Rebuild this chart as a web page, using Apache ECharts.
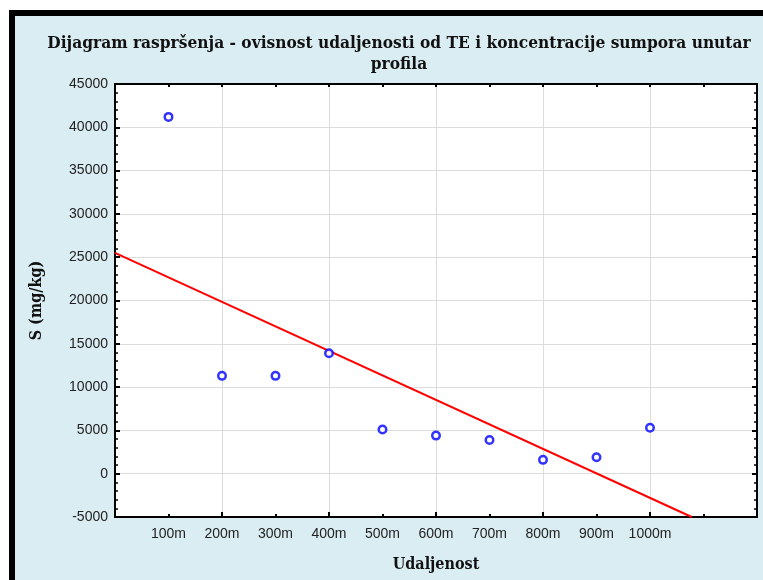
<!DOCTYPE html>
<html>
<head>
<meta charset="utf-8">
<script src="https://cdn.jsdelivr.net/npm/echarts@6/dist/echarts.min.js"></script>
<style>html,body{margin:0;padding:0;background:#fff}#c{width:763px;height:580px}</style>
</head>
<body>
<div id="c"></div>
<script>
// Data
var distances = [100, 200, 300, 400, 500, 600, 700, 800, 900, 1000];
var sulfur = [41200, 11300, 11300, 13900, 5100, 4400, 3900, 1600, 1900, 5300];
// fitted trend line endpoints
var trendX = [0, 1078];
var trendY = [25500, -5000];
var xLabels = ['100m','200m','300m','400m','500m','600m','700m','800m','900m','1000m'];

var chart = echarts.init(document.getElementById('c'));
var serif = '"DejaVu Serif Condensed", "DejaVu Serif", serif';
var sans = '"Liberation Sans", Arial, sans-serif';
var frame = {show:true, onZero:false, lineStyle:{color:'#000', width:2}};
var grid = {lineStyle:{color:'#dcdcdc', width:1}};

var opt = {
  backgroundColor:'#ffffff',
  animation:false,
  graphic:[{type:'rect', z:-10, silent:true, shape:{x:12, y:13, width:800, height:620},
            style:{fill:'#daedf3', stroke:'#000', lineWidth:6}}],
  title:{text:'Dijagram raspršenja - ovisnost udaljenosti od TE i koncentracije sumpora unutar\nprofila',
         left:394, top:28, textAlign:'center',
         textStyle:{fontFamily:serif, fontWeight:'bold', fontSize:17.2, lineHeight:21, color:'#111'}},
  grid:{left:115, right:6, top:84, bottom:63, show:true, backgroundColor:'#ffffff', borderWidth:0},
  xAxis:[
    {type:'value', min:0, max:1200, interval:100, position:'bottom',
     axisLine:frame, axisTick:{show:true, inside:true, length:3, lineStyle:{color:'#000', width:2}},
     splitLine:{show:false},
     axisLabel:{margin:10, fontFamily:sans, fontSize:14, color:'#222',
       formatter:function(v){var i=distances.indexOf(v); return i>=0 ? xLabels[i] : '';}},
     name:'Udaljenost', nameLocation:'middle', nameGap:40,
     nameTextStyle:{fontFamily:serif, fontWeight:'bold', fontSize:16, color:'#111'}},
    {type:'value', min:0, max:1200, interval:200, position:'bottom',
     axisLine:{show:false, onZero:false}, axisTick:{show:true, inside:true, length:5, lineStyle:{color:'#000', width:2}},
     axisLabel:{show:false}, splitLine:grid},
    {type:'value', min:0, max:1200, interval:100, position:'top',
     axisLine:frame, axisTick:{show:true, inside:true, length:3, lineStyle:{color:'#000', width:2}},
     axisLabel:{show:false}, splitLine:{show:false}}
  ],
  yAxis:[
    {type:'value', min:-5000, max:45000, interval:5000, position:'left',
     axisLine:frame, axisTick:{show:true, inside:true, length:5, lineStyle:{color:'#000', width:2}},
     minorTick:{show:true, splitNumber:5, length:3, lineStyle:{color:'#000', width:1.5}},
     splitLine:grid,
     axisLabel:{margin:7, fontFamily:sans, fontSize:14, color:'#222', formatter:function(v){return String(v);}},
     name:'S (mg/kg)', nameLocation:'middle', nameGap:70, nameRotate:90,
     nameTextStyle:{fontFamily:serif, fontWeight:'bold', fontSize:16, color:'#111'}},
    {type:'value', min:-5000, max:45000, interval:5000, position:'right',
     axisLine:frame, axisTick:{show:true, inside:true, length:5, lineStyle:{color:'#000', width:2}},
     minorTick:{show:true, splitNumber:5, length:3, lineStyle:{color:'#000', width:1.5}},
     splitLine:{show:false}, axisLabel:{show:false}}
  ],
  series:[
    {type:'line', xAxisIndex:0, yAxisIndex:0, data:trendX.map(function(x,i){return [x, trendY[i]];}),
     showSymbol:false, symbol:'none', lineStyle:{color:'#ff0000', width:2}, z:3},
    {type:'scatter', xAxisIndex:0, yAxisIndex:0, data:distances.map(function(x,i){return [x, sulfur[i]];}),
     symbol:'circle', symbolSize:7.5, itemStyle:{color:'#ffffff', borderColor:'#0000ff', borderWidth:2.5}, z:4}
  ]
};
chart.setOption(opt);
</script>
</body>
</html>
